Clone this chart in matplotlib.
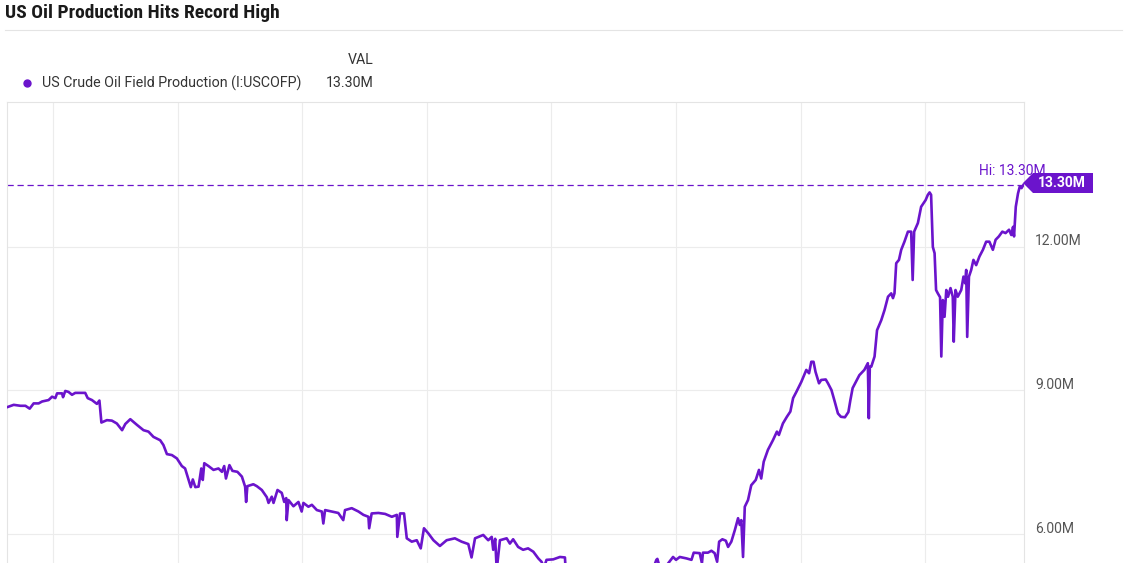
import matplotlib.pyplot as plt
import matplotlib.transforms as mtransforms
from matplotlib.lines import Line2D
from matplotlib.patches import Polygon

plt.rcParams['font.family'] = ['Roboto', 'DejaVu Sans']

# Weekly production (decimal year, million bbl/day)
years = [
    1983.14, 1983.41, 1983.68, 1983.88, 1984.05, 1984.21, 1984.41, 1984.55, 1984.81, 1984.95,
    1985.08, 1985.15, 1985.35, 1985.39, 1985.48, 1985.61, 1985.75, 1985.88, 1986.28, 1986.38,
    1986.55, 1986.75, 1986.85, 1986.93, 1987.15, 1987.35, 1987.55, 1987.76, 1987.89, 1988.09,
    1988.36, 1988.62, 1988.82, 1989.02, 1989.29, 1989.42, 1989.56, 1989.76, 1989.96, 1990.16,
    1990.29, 1990.43, 1990.52, 1990.60, 1990.70, 1990.83, 1990.94, 1991.00, 1991.06, 1991.23,
    1991.43, 1991.63, 1991.77, 1991.86, 1991.93, 1992.07, 1992.19, 1992.39, 1992.57, 1992.70,
    1992.74, 1992.79, 1993.03, 1993.17, 1993.37, 1993.57, 1993.64, 1993.77, 1993.84, 1994.00,
    1994.17, 1994.27, 1994.35, 1994.37, 1994.44, 1994.64, 1994.84, 1994.97, 1995.04, 1995.24,
    1995.38, 1995.58, 1995.78, 1995.84, 1995.91, 1996.18, 1996.44, 1996.64, 1996.71, 1996.98,
    1997.25, 1997.45, 1997.65, 1997.68, 1997.78, 1998.05, 1998.32, 1998.59, 1998.79, 1998.81,
    1998.92, 1999.08, 1999.19, 1999.39, 1999.59, 1999.75, 1999.88, 2000.06, 2000.26, 2000.52,
    2000.79, 2001.12, 2001.39, 2001.66, 2001.79, 2001.93, 2002.26, 2002.46, 2002.60, 2002.66,
    2002.74, 2002.80, 2002.93, 2003.20, 2003.33, 2003.46, 2003.66, 2003.86, 2004.06, 2004.27,
    2004.47, 2004.60, 2004.70, 2004.80, 2005.07, 2005.34, 2005.54, 2005.67, 2005.90, 2006.20,
    2006.60, 2007.00, 2007.50, 2008.00, 2008.60, 2008.70, 2008.90, 2009.10, 2009.21, 2009.25,
    2009.35, 2009.60, 2009.88, 2010.00, 2010.15, 2010.42, 2010.62, 2010.71, 2010.95, 2011.04,
    2011.08, 2011.28, 2011.42, 2011.55, 2011.65, 2011.73, 2011.86, 2012.00, 2012.09, 2012.22,
    2012.36, 2012.49, 2012.56, 2012.62, 2012.69, 2012.76, 2012.89, 2013.02, 2013.20, 2013.33,
    2013.42, 2013.52, 2013.69, 2013.89, 2014.05, 2014.13, 2014.29, 2014.45, 2014.59, 2014.70,
    2014.83, 2015.03, 2015.23, 2015.34, 2015.43, 2015.52, 2015.60, 2015.74, 2015.83, 2016.01,
    2016.10, 2016.24, 2016.37, 2016.50, 2016.62, 2016.78, 2016.92, 2017.00, 2017.09, 2017.23,
    2017.36, 2017.56, 2017.70, 2017.74, 2017.78, 2017.84, 2017.97, 2018.07, 2018.24, 2018.37,
    2018.51, 2018.64, 2018.71, 2018.77, 2018.84, 2018.95, 2019.04, 2019.17, 2019.31, 2019.44,
    2019.50, 2019.56, 2019.71, 2019.84, 2020.02, 2020.11, 2020.18, 2020.24, 2020.31, 2020.38,
    2020.44, 2020.51, 2020.60, 2020.65, 2020.71, 2020.78, 2020.85, 2020.92, 2021.02, 2021.11,
    2021.15, 2021.22, 2021.31, 2021.45, 2021.54, 2021.61, 2021.65, 2021.69, 2021.76, 2021.85,
    2021.94, 2022.05, 2022.18, 2022.32, 2022.45, 2022.58, 2022.72, 2022.83, 2022.96, 2023.10,
    2023.23, 2023.37, 2023.46, 2023.53, 2023.57, 2023.64, 2023.73, 2023.80, 2023.87, 2023.95,
]
production = [
    8.65, 8.70, 8.68, 8.68, 8.62, 8.73, 8.73, 8.77, 8.80, 8.87,
    8.84, 8.94, 8.94, 8.86, 8.99, 8.97, 8.91, 8.95, 8.95, 8.84,
    8.80, 8.72, 8.79, 8.33, 8.38, 8.37, 8.31, 8.17, 8.30, 8.40,
    8.28, 8.17, 8.14, 8.03, 7.96, 7.86, 7.67, 7.65, 7.58, 7.42,
    7.37, 7.13, 6.98, 7.14, 6.98, 6.99, 7.37, 7.13, 7.48, 7.42,
    7.34, 7.37, 7.30, 7.42, 7.16, 7.44, 7.32, 7.30, 7.20, 6.99,
    6.67, 7.00, 7.04, 7.00, 6.92, 6.77, 6.65, 6.78, 6.65, 6.92,
    6.86, 6.67, 6.75, 6.29, 6.71, 6.58, 6.67, 6.47, 6.65, 6.57,
    6.61, 6.50, 6.47, 6.22, 6.50, 6.47, 6.44, 6.29, 6.50, 6.54,
    6.47, 6.40, 6.36, 6.12, 6.43, 6.44, 6.42, 6.36, 6.40, 5.94,
    6.43, 6.43, 5.91, 5.84, 5.87, 5.70, 6.12, 6.01, 5.87, 5.75,
    5.87, 5.91, 5.84, 5.79, 5.51, 5.91, 5.98, 5.87, 5.94, 5.67,
    5.90, 5.25, 5.87, 5.91, 5.80, 5.89, 5.73, 5.67, 5.70, 5.63,
    5.49, 5.42, 5.30, 5.46, 5.47, 5.52, 5.51, 4.30, 4.90, 5.10,
    5.15, 5.10, 5.08, 5.10, 5.05, 4.00, 4.90, 5.30, 5.46, 5.48,
    5.30, 5.33, 5.52, 5.46, 5.52, 5.49, 5.46, 5.61, 5.60, 5.39,
    5.61, 5.61, 5.65, 5.60, 5.42, 5.84, 5.89, 5.86, 5.73, 5.84,
    6.08, 6.33, 6.19, 6.29, 5.52, 6.57, 6.71, 7.02, 7.13, 7.34,
    7.16, 7.51, 7.76, 7.96, 8.14, 8.07, 8.31, 8.45, 8.56, 8.84,
    8.97, 9.18, 9.43, 9.36, 9.60, 9.60, 9.39, 9.15, 9.22, 9.23,
    9.15, 9.01, 8.77, 8.52, 8.45, 8.44, 8.55, 8.80, 9.05, 9.19,
    9.32, 9.43, 9.57, 8.42, 9.50, 9.50, 9.71, 10.26, 10.47, 10.68,
    10.96, 11.03, 10.93, 11.03, 11.66, 11.73, 11.94, 12.11, 12.32, 12.32,
    11.31, 12.32, 12.50, 12.84, 12.98, 13.09, 13.14, 13.09, 12.00, 11.87,
    11.10, 11.03, 10.95, 9.71, 10.89, 10.54, 11.10, 10.96, 11.14, 10.96,
    10.02, 11.10, 10.96, 11.10, 11.38, 11.24, 11.52, 10.12, 11.38, 11.52,
    11.73, 11.62, 11.80, 11.94, 12.11, 12.11, 11.94, 12.15, 12.22, 12.32,
    12.29, 12.36, 12.25, 12.42, 12.22, 12.84, 13.12, 13.26, 13.23, 13.30,
]

grid_years = [1985, 1990, 1995, 2000, 2005, 2010, 2015, 2020]
y_ticks = [6, 9, 12]
y_tick_labels = ['6.00M', '9.00M', '12.00M']
high_value = 13.30
high_label = 'Hi: 13.30M'
last_label = '13.30M'
title = 'US Oil Production Hits Record High'
series_name = 'US Crude Oil Field Production (I:USCOFP)'

PURPLE = '#6b14cc'
W, H = 1126, 563


def fx(px):
    return px / W


def fy(py):
    return 1 - py / H


fig = plt.figure(figsize=(W / 100, H / 100), dpi=100)
ax = fig.add_axes([fx(7), 0, fx(1024 - 7), (H - 102) / H])

ax.plot(years, production, color=PURPLE, lw=1.9, solid_joinstyle='round', zorder=3)
ax.axhline(high_value, color=PURPLE, lw=0.9, ls=(0, (5, 3)), zorder=2)

ax.set_xlim(1983.14, 2023.97)
ax.set_ylim(5.394, 15.03)

ax.set_xticks(grid_years)
ax.tick_params(axis='x', length=0, labelbottom=False)
ax.yaxis.tick_right()
ax.set_yticks(y_ticks)
ax.set_yticklabels(y_tick_labels)
ax.tick_params(axis='y', length=0, pad=8, labelsize=10, labelcolor='#555555')
for lab in ax.get_yticklabels():
    lab.set_transform(lab.get_transform() + mtransforms.ScaledTranslation(0, 7 / 100, fig.dpi_scale_trans))
ax.grid(True, color='#ececec', lw=0.8)
ax.set_axisbelow(True)
for side in ['top', 'left', 'right']:
    ax.spines[side].set_color('#e4e4e4')
    ax.spines[side].set_linewidth(0.8)
ax.spines['bottom'].set_visible(False)

# header
fig.text(fx(5), fy(13), title, fontsize=14, fontweight='bold', color='#1a1a1a',
         family=['Roboto Condensed', 'Roboto'], stretch='condensed', va='center', ha='left')
fig.add_artist(Line2D([fx(5), fx(1122)], [fy(30), fy(30)], color='#e4e4e4', lw=0.8))

# legend
fig.text(fx(374), fy(60), 'VAL', fontsize=10.2, color='#333333', ha='right', va='center')
fig.add_artist(Line2D([fx(27)], [fy(83)], marker='o', ms=5, color=PURPLE, lw=0))
fig.text(fx(42), fy(83), series_name, fontsize=10.3, color='#333333', ha='left', va='center')
fig.text(fx(374), fy(83), last_label, fontsize=10.2, color='#333333', ha='right', va='center')

# high marker and last value badge
fig.text(fx(979), fy(171), high_label, fontsize=10, color=PURPLE, ha='left', va='center', zorder=4)
badge = Polygon([(fx(1023), fy(183)), (fx(1033), fy(173)), (fx(1093), fy(173)),
                 (fx(1093), fy(193)), (fx(1033), fy(193))],
                closed=True, transform=fig.transFigure, facecolor=PURPLE, edgecolor='none', zorder=5)
fig.add_artist(badge)
fig.text(fx(1062), fy(183), last_label, fontsize=10, fontweight='bold', color='white',
         ha='center', va='center', zorder=6)

fig.savefig('out.png', dpi=100, facecolor='white')
